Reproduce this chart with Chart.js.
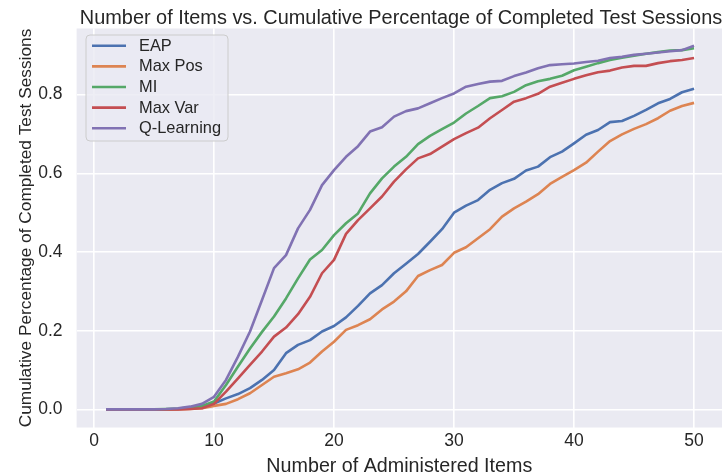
<!DOCTYPE html>
<html>
<head>
<meta charset="utf-8">
<script src="https://cdn.jsdelivr.net/npm/chart.js@4"></script>
<style>
  html, body { margin: 0; padding: 0; background: #ffffff; }
  canvas { display: block; }
</style>
</head>
<body>
<canvas id="chart" width="722" height="476"></canvas>
<script>
// Number of administered items (x positions of every series)
const items = [1, 2, 3, 4, 5, 6, 7, 8, 9, 10,
  11, 12, 13, 14, 15, 16, 17, 18, 19, 20,
  21, 22, 23, 24, 25, 26, 27, 28, 29, 30,
  31, 32, 33, 34, 35, 36, 37, 38, 39, 40,
  41, 42, 43, 44, 45, 46, 47, 48, 49, 50];

// Cumulative share of completed test sessions per item-selection strategy
const eap = [0, 0, 0, 0, 0, 0, 0.001, 0.003, 0.008, 0.015,
  0.028, 0.039, 0.054, 0.075, 0.100, 0.143, 0.164, 0.176, 0.198, 0.212,
  0.234, 0.263, 0.295, 0.316, 0.346, 0.370, 0.395, 0.426, 0.458, 0.500,
  0.518, 0.532, 0.558, 0.575, 0.586, 0.607, 0.617, 0.641, 0.655, 0.676,
  0.698, 0.710, 0.730, 0.733, 0.746, 0.761, 0.778, 0.789, 0.806, 0.815];

const maxPos = [0, 0, 0, 0, 0, 0, 0, 0.001, 0.003, 0.009,
  0.014, 0.026, 0.041, 0.062, 0.083, 0.092, 0.102, 0.119, 0.147, 0.172,
  0.202, 0.214, 0.229, 0.254, 0.274, 0.300, 0.339, 0.354, 0.367, 0.398,
  0.412, 0.435, 0.458, 0.490, 0.511, 0.528, 0.547, 0.573, 0.591, 0.608,
  0.627, 0.655, 0.682, 0.699, 0.713, 0.725, 0.740, 0.759, 0.771, 0.779];

const mi = [0, 0, 0, 0, 0, 0.001, 0.002, 0.005, 0.009, 0.020,
  0.062, 0.109, 0.155, 0.197, 0.236, 0.282, 0.333, 0.381, 0.405, 0.443,
  0.473, 0.498, 0.549, 0.587, 0.617, 0.642, 0.674, 0.695, 0.712, 0.729,
  0.752, 0.771, 0.791, 0.796, 0.807, 0.824, 0.834, 0.840, 0.848, 0.862,
  0.871, 0.880, 0.888, 0.894, 0.899, 0.904, 0.908, 0.912, 0.913, 0.918];

const maxVar = [0, 0, 0, 0, 0, 0, 0, 0.001, 0.003, 0.014,
  0.045, 0.079, 0.113, 0.147, 0.185, 0.208, 0.242, 0.286, 0.346, 0.380,
  0.446, 0.481, 0.511, 0.541, 0.579, 0.610, 0.638, 0.649, 0.668, 0.687,
  0.702, 0.716, 0.740, 0.761, 0.782, 0.791, 0.802, 0.820, 0.830, 0.840,
  0.849, 0.857, 0.861, 0.869, 0.873, 0.873, 0.880, 0.885, 0.888, 0.893];

const qLearning = [0, 0, 0, 0, 0, 0.001, 0.003, 0.007, 0.014, 0.032,
  0.075, 0.134, 0.198, 0.278, 0.359, 0.392, 0.460, 0.507, 0.570, 0.608,
  0.642, 0.669, 0.706, 0.717, 0.744, 0.758, 0.765, 0.778, 0.791, 0.803,
  0.820, 0.827, 0.833, 0.835, 0.847, 0.856, 0.867, 0.875, 0.877, 0.879,
  0.883, 0.886, 0.893, 0.896, 0.901, 0.904, 0.907, 0.910, 0.913, 0.924];

// Axis tick values
const xTicks = [0, 10, 20, 30, 40, 50];
const yTicks = [0.0, 0.2, 0.4, 0.6, 0.8];

const seriesNames = ['EAP', 'Max Pos', 'MI', 'Max Var', 'Q-Learning'];
const seriesValues = [eap, maxPos, mi, maxVar, qLearning];
const seriesColors = ['#4c72b0', '#dd8452', '#55a868', '#c44e52', '#8172b3'];

const TEXT = '#262626';
const FONT = "'Liberation Sans', Arial, Helvetica, sans-serif";

const datasets = seriesNames.map((name, i) => ({
  label: name,
  data: items.map((x, j) => ({ x: x, y: seriesValues[i][j] })),
  borderColor: seriesColors[i],
  backgroundColor: seriesColors[i],
  borderWidth: 2.6,
  pointRadius: 0,
  tension: 0,
  fill: false,
  borderJoinStyle: 'round',
  order: seriesNames.length - i
}));

// Axes face colour behind the grid
const facePlugin = {
  id: 'face',
  beforeDraw(chart) {
    const { ctx, chartArea: a } = chart;
    ctx.save();
    ctx.fillStyle = '#ffffff';
    ctx.fillRect(0, 0, chart.width, chart.height);
    ctx.fillStyle = '#eaeaf2';
    ctx.fillRect(a.left, a.top, a.right - a.left, a.bottom - a.top);
    ctx.restore();
  }
};

// Heading above the axes
const headingPlugin = {
  id: 'heading',
  afterDraw(chart) {
    const { ctx } = chart;
    ctx.save();
    ctx.fillStyle = TEXT;
    ctx.font = '19.9px ' + FONT;
    ctx.textAlign = 'center';
    ctx.textBaseline = 'alphabetic';
    ctx.fillText('Number of Items vs. Cumulative Percentage of Completed Test Sessions', 401, 24);
    ctx.restore();
  }
};

// Framed legend in the upper-left corner of the axes
const boxLegendPlugin = {
  id: 'boxLegend',
  afterDatasetsDraw(chart) {
    const { ctx } = chart;
    const x0 = 86, y0 = 35, w = 142, h = 106, r = 4;
    ctx.save();
    ctx.beginPath();
    ctx.roundRect(x0, y0, w, h, r);
    ctx.fillStyle = 'rgba(234,234,242,0.8)';
    ctx.fill();
    ctx.lineWidth = 1;
    ctx.strokeStyle = '#cccccc';
    ctx.stroke();
    ctx.font = '16.4px ' + FONT;
    ctx.textBaseline = 'middle';
    ctx.textAlign = 'left';
    chart.data.datasets.forEach((ds, i) => {
      const y = 45.8 + i * 20.6;
      ctx.beginPath();
      ctx.moveTo(92, y);
      ctx.lineTo(126, y);
      ctx.strokeStyle = ds.borderColor;
      ctx.lineWidth = 2.6;
      ctx.stroke();
      ctx.fillStyle = TEXT;
      ctx.fillText(ds.label, 139, y + 0.5);
    });
    ctx.restore();
  }
};

new Chart(document.getElementById('chart'), {
  type: 'line',
  data: { datasets: datasets },
  options: {
    responsive: false,
    devicePixelRatio: 1,
    animation: false,
    layout: { padding: { top: 28.5, left: 0, right: 0, bottom: 0 } },
    plugins: {
      legend: { display: false },
      title: { display: false },
      tooltip: { enabled: false }
    },
    scales: {
      x: {
        type: 'linear',
        min: -1.45,
        max: 52.33,
        afterFit(s) { s.height = 48.5; },
        afterBuildTicks(s) { s.ticks = xTicks.map(v => ({ value: v })); },
        grid: { color: '#ffffff', lineWidth: 1.6, drawTicks: false },
        border: { display: false },
        ticks: {
          color: TEXT,
          padding: 3,
          font: { family: FONT, size: 17.5 },
          maxRotation: 0,
          callback: v => String(v)
        },
        title: {
          display: true,
          text: 'Number of Administered Items',
          color: TEXT,
          font: { family: FONT, size: 19.7, lineHeight: 1.0 },
          padding: { top: 0, bottom: 0 }
        }
      },
      y: {
        type: 'linear',
        min: -0.046,
        max: 0.968,
        afterFit(s) { s.width = 76.6; },
        afterBuildTicks(s) { s.ticks = yTicks.map(v => ({ value: v })); },
        grid: { color: '#ffffff', lineWidth: 1.6, drawTicks: false },
        border: { display: false },
        ticks: {
          color: TEXT,
          padding: 14,
          font: { family: FONT, size: 17.5 },
          callback: v => v.toFixed(1)
        },
        title: {
          display: true,
          text: 'Cumulative Percentage of Completed Test Sessions',
          color: TEXT,
          font: { family: FONT, size: 17.3, lineHeight: 1.2 },
          padding: { top: 16, bottom: 0 }
        }
      }
    }
  },
  plugins: [facePlugin, headingPlugin, boxLegendPlugin]
});
</script>
</body>
</html>
